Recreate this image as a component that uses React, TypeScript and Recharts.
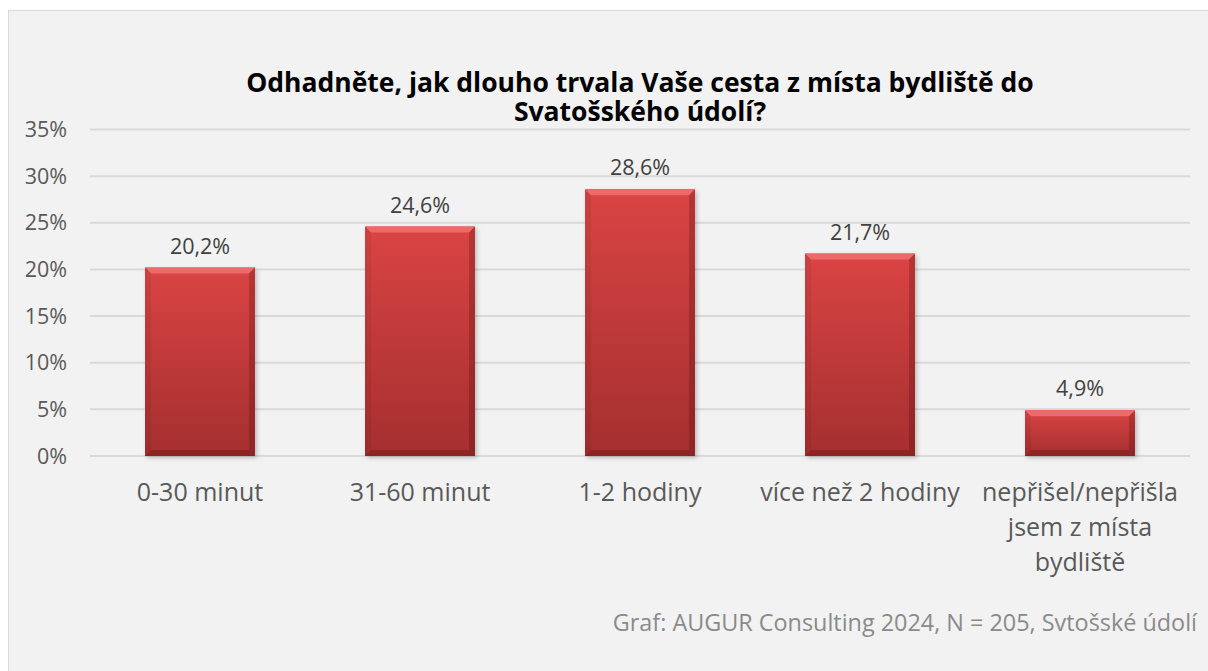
import React from 'react';
import { BarChart, Bar, XAxis, YAxis, CartesianGrid, LabelList } from 'recharts';

const categories = ['0-30 minut', '31-60 minut', '1-2 hodiny', 'více než 2 hodiny', 'nepřišel/nepřišla\njsem z místa\nbydliště'];
const values = [20.2, 24.6, 28.6, 21.7, 4.9];
const yTicks = [0, 5, 10, 15, 20, 25, 30, 35];
const titleLines = ['Odhadněte, jak dlouho trvala Vaše cesta z místa bydliště do', 'Svatošského údolí?'];
const footer = 'Graf: AUGUR Consulting 2024, N = 205, Svtošské údolí';

const data = categories.map((c, i) => ({ name: c, value: values[i] }));

const FONT = '"Open Sans", sans-serif';

const BevelBar = (props: any) => {
  const { x, y, width: w, height: h, index } = props;
  if (!h || h <= 0) return null;
  const b = Math.min(6, h / 2);
  const id = `g${index}`;
  return (
    <g>
      <defs>
        <linearGradient id={`${id}m`} x1="0" y1="0" x2="0" y2="1">
          <stop offset="0%" stopColor="#da4444" />
          <stop offset="100%" stopColor="#a52f2f" />
        </linearGradient>
        <filter id={`${id}s`} x="-20%" y="-20%" width="140%" height="140%">
          <feGaussianBlur stdDeviation="2" />
        </filter>
      </defs>
      <rect x={x + 2} y={y + 2} width={w} height={h} fill="rgba(0,0,0,0.22)" filter={`url(#${id}s)`} />
      <rect x={x} y={y} width={w} height={h} fill={`url(#${id}m)`} />
      <polygon points={`${x},${y} ${x + w},${y} ${x + w - b},${y + b} ${x + b},${y + b}`} fill="#ec6a6a" />
      <polygon points={`${x},${y} ${x + b},${y + b} ${x + b},${y + h - b} ${x},${y + h}`} fill="rgba(0,0,0,0.06)" />
      <polygon points={`${x + w},${y} ${x + w - b},${y + b} ${x + w - b},${y + h - b} ${x + w},${y + h}`} fill="rgba(60,0,0,0.22)" />
      <polygon points={`${x},${y + h} ${x + b},${y + h - b} ${x + w - b},${y + h - b} ${x + w},${y + h}`} fill="rgba(60,0,0,0.22)" />
    </g>
  );
};

const CatTick = (props: any) => {
  const { x, y, payload } = props;
  const lines = String(payload.value).split('\n');
  return (
    <text x={x} y={y} textAnchor="middle" fill="#595959" style={{ fontSize: 25, fontFamily: FONT }}>
      {lines.map((l, i) => (
        <tspan key={i} x={x} dy={i === 0 ? '0.9em' : 35}>
          {l}
        </tspan>
      ))}
    </text>
  );
};

export default function App() {
  return (
    <div
      style={{
        position: 'fixed',
        left: 8,
        top: 10,
        width: 1230,
        height: 690,
        border: '1px solid #d9d9d9',
        background: '#f2f2f2',
        boxSizing: 'border-box',
        fontFamily: FONT,
      }}
    >
      <div
        style={{
          position: 'absolute',
          left: 81,
          width: 1100,
          top: 57,
          textAlign: 'center',
          fontWeight: 'bold',
          fontSize: 26.5,
          lineHeight: '29px',
          color: '#000',
          whiteSpace: 'nowrap',
        }}
      >
        {titleLines.map((t, i) => (
          <div key={i}>{t}</div>
        ))}
      </div>
      <BarChart
        width={1199}
        height={660}
        data={data}
        margin={{ top: 118.5, right: 18, left: 0, bottom: 155 }}
        barCategoryGap="25%"
      >
        <CartesianGrid vertical={false} stroke="#d9d9d9" strokeWidth={2} />
        <XAxis
          dataKey="name"
          axisLine={false}
          tickLine={false}
          tick={<CatTick />}
          interval={0}
          height={60}
          tickSize={0}
          tickMargin={22}
        />
        <YAxis
          domain={[0, 35]}
          ticks={yTicks}
          axisLine={false}
          tickLine={false}
          tickSize={0}
          tickMargin={23}
          width={81}
          tickFormatter={(v: number) => `${v}%`}
          tick={{ fontSize: 21.5, fill: '#595959', fontFamily: FONT }}
        />
        <Bar dataKey="value" shape={<BevelBar />} isAnimationActive={false}>
          <LabelList
            dataKey="value"
            position="top"
            offset={14}
            formatter={(v: any) => `${String(v).replace('.', ',')}%`}
            style={{ fontSize: 21.5, fill: '#404040', fontFamily: FONT }}
          />
        </Bar>
      </BarChart>
      <div
        style={{
          position: 'absolute',
          right: 1230 - 2 - 1188,
          top: 595,
          fontSize: 23.4,
          color: '#8a8a8a',
          whiteSpace: 'nowrap',
        }}
      >
        {footer}
      </div>
    </div>
  );
}
